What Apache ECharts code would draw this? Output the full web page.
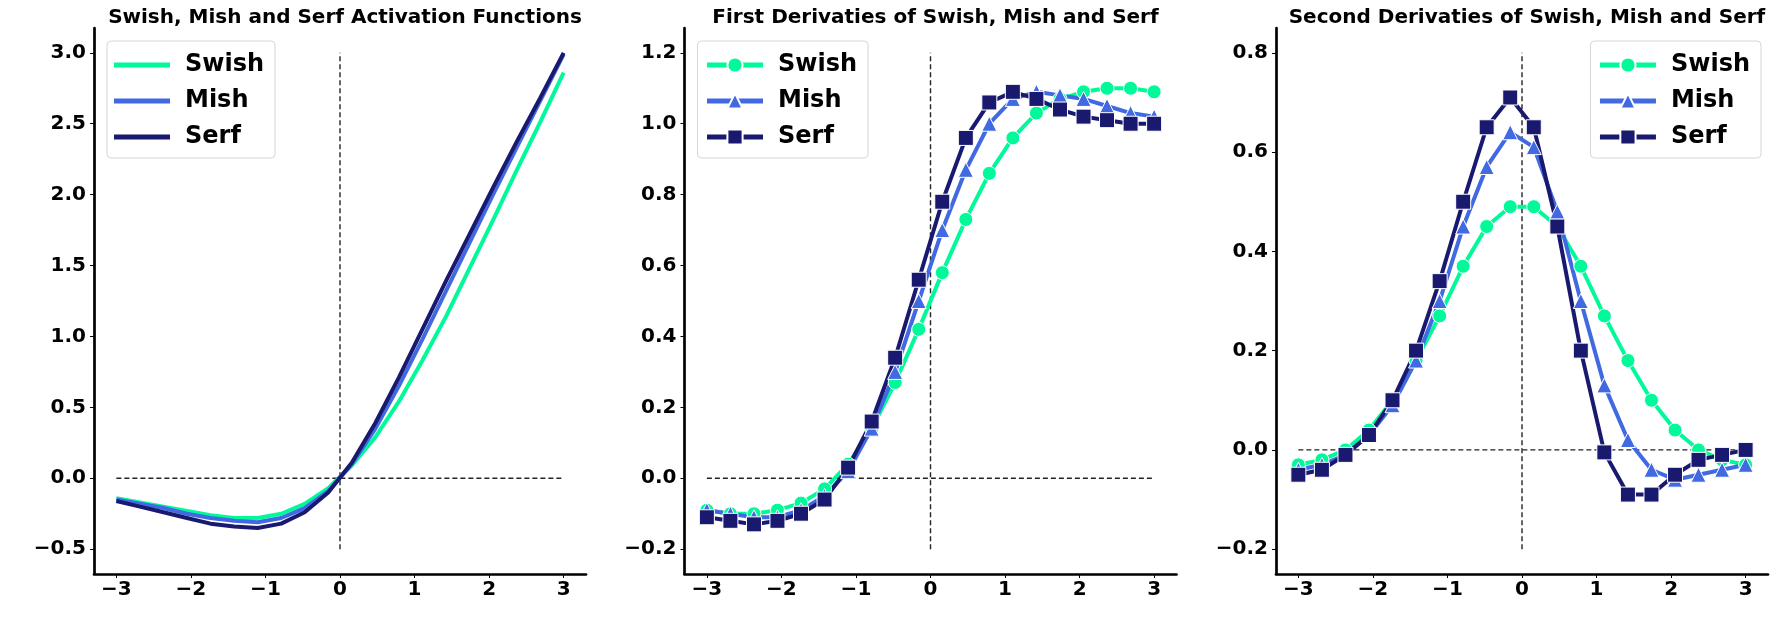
<!DOCTYPE html>
<html>
<head>
<meta charset="utf-8">
<title>Swish, Mish and Serf</title>
<script src="https://cdn.jsdelivr.net/npm/echarts@6.0.0/dist/echarts.min.js"></script>
<style>
  html, body { margin: 0; padding: 0; background: #fff; }
  #main { width: 1775px; height: 633px; }
</style>
</head>
<body>
<div id="main"></div>
<script>
// 20 sample points on [-3, 3]
var xs = [-3, -2.684, -2.368, -2.053, -1.737, -1.421, -1.105, -0.789, -0.474, -0.158,
          0.158, 0.474, 0.789, 1.105, 1.421, 1.737, 2.053, 2.368, 2.684, 3];

// activation functions
var swishAct = [-0.14, -0.17, -0.20, -0.23, -0.26, -0.28, -0.28, -0.25, -0.18, -0.07,
                0.09, 0.29, 0.54, 0.83, 1.14, 1.48, 1.82, 2.17, 2.51, 2.86];
var mishAct  = [-0.15, -0.18, -0.21, -0.25, -0.28, -0.30, -0.31, -0.28, -0.21, -0.09,
                0.10, 0.35, 0.65, 0.98, 1.32, 1.66, 2.00, 2.33, 2.66, 2.99];
var serfAct  = [-0.16, -0.20, -0.24, -0.28, -0.32, -0.34, -0.35, -0.32, -0.24, -0.10,
                0.11, 0.39, 0.71, 1.05, 1.39, 1.72, 2.05, 2.37, 2.68, 3.00];

// first derivatives
var swishD1 = [-0.09, -0.10, -0.10, -0.09, -0.07, -0.03, 0.04, 0.14, 0.27, 0.42,
               0.58, 0.73, 0.86, 0.96, 1.03, 1.07, 1.09, 1.10, 1.10, 1.09];
var mishD1  = [-0.09, -0.10, -0.11, -0.11, -0.09, -0.05, 0.02, 0.14, 0.30, 0.50,
               0.70, 0.87, 1.00, 1.07, 1.09, 1.08, 1.07, 1.05, 1.03, 1.02];
var serfD1  = [-0.11, -0.12, -0.13, -0.12, -0.10, -0.06, 0.03, 0.16, 0.34, 0.56,
               0.78, 0.96, 1.06, 1.09, 1.07, 1.04, 1.02, 1.01, 1.00, 1.00];

// second derivatives
var swishD2 = [-0.03, -0.02, 0.00, 0.04, 0.10, 0.18, 0.27, 0.37, 0.45, 0.49,
               0.49, 0.45, 0.37, 0.27, 0.18, 0.10, 0.04, 0.00, -0.02, -0.03];
var mishD2  = [-0.04, -0.03, -0.01, 0.03, 0.09, 0.18, 0.30, 0.45, 0.57, 0.64,
               0.61, 0.48, 0.30, 0.13, 0.02, -0.04, -0.06, -0.05, -0.04, -0.03];
var serfD2  = [-0.05, -0.04, -0.01, 0.03, 0.10, 0.20, 0.34, 0.50, 0.65, 0.71,
               0.65, 0.45, 0.20, -0.005, -0.09, -0.09, -0.05, -0.02, -0.01, 0.00];

var xTicks  = [-3, -2, -1, 0, 1, 2, 3];
var yTicks1 = [-0.5, 0, 0.5, 1, 1.5, 2, 2.5, 3];
var yTicks2 = [-0.2, 0, 0.2, 0.4, 0.6, 0.8, 1.0, 1.2];
var yTicks3 = [-0.2, 0, 0.2, 0.4, 0.6, 0.8];

var titles = [
  'Swish, Mish and Serf Activation Functions',
  'First Derivaties of Swish, Mish and Serf',
  'Second Derivaties of Swish, Mish and Serf'
];
var names = ['Swish', 'Mish', 'Serf'];

var panels = [
  { values: [swishAct, mishAct, serfAct], yTicks: yTicks1, markers: false },
  { values: [swishD1, mishD1, serfD1], yTicks: yTicks2, markers: true },
  { values: [swishD2, mishD2, serfD2], yTicks: yTicks3, markers: true }
];

var colors = ['#00FA9A', '#4169E1', '#191970'];
var symbols = ['circle', 'triangle', 'rect'];
var symbolSizes = [14, 15, 15];
var font = 'DejaVu Sans';
var gridLeft = [94, 684.5, 1276];
var gridW = 492, gridTop = 28, gridH = 546;

function toPairs(ys) {
  return xs.map(function (x, i) { return [x, ys[i]]; });
}
function fmt(v, d) {
  var s = Math.abs(v).toFixed(d);
  return (v < -1e-9 ? '\u2212' : '') + s;
}

var option = {
  animation: false,
  backgroundColor: '#fff',
  textStyle: { fontFamily: font },
  title: [], grid: [], xAxis: [], yAxis: [], legend: [], series: []
};

panels.forEach(function (p, k) {
  var lo = p.yTicks[0], hi = p.yTicks[p.yTicks.length - 1];
  var pad = (hi - lo) * 0.05;
  var suffix = new Array(k + 1).join(' ');
  var tickFont = { color: '#000', fontSize: 20, fontWeight: 'bold', fontFamily: font };

  option.title.push({
    text: titles[k],
    left: gridLeft[k] + gridW / 2,
    top: 3,
    textAlign: 'center',
    textStyle: { fontFamily: font, fontSize: 20, fontWeight: 'bold', color: '#000' }
  });
  option.grid.push({
    left: gridLeft[k], top: gridTop, width: gridW, height: gridH,
    containLabel: false, outerBoundsMode: 'none'
  });
  option.xAxis.push({
    gridIndex: k, type: 'value', min: -3.3, max: 3.3,
    axisLine: { show: true, onZero: false, lineStyle: { color: '#000', width: 2.7 } },
    axisTick: { show: true, length: 4, customValues: xTicks, lineStyle: { color: '#000', width: 1 } },
    axisLabel: Object.assign({
      customValues: xTicks, margin: 6,
      formatter: function (v) { return fmt(v, 0); }
    }, tickFont),
    splitLine: { show: false }
  });
  option.yAxis.push({
    gridIndex: k, type: 'value', min: lo - pad, max: hi + pad,
    axisLine: { show: true, onZero: false, lineStyle: { color: '#000', width: 2.7 } },
    axisTick: { show: true, length: 4, customValues: p.yTicks, lineStyle: { color: '#000', width: 1 } },
    axisLabel: Object.assign({
      customValues: p.yTicks, margin: 8,
      formatter: function (v) { return fmt(v, 1); }
    }, tickFont),
    splitLine: { show: false }
  });

  // dashed zero lines
  var dash = { color: '#222', width: 1.4, type: [5, 3] };
  option.series.push({
    type: 'line', xAxisIndex: k, yAxisIndex: k, silent: true, symbol: 'none',
    lineStyle: dash, data: [[xTicks[0], 0], [xTicks[xTicks.length - 1], 0]]
  });
  option.series.push({
    type: 'line', xAxisIndex: k, yAxisIndex: k, silent: true, symbol: 'none',
    lineStyle: dash, data: [[0, lo], [0, hi]]
  });

  var legendData = [];
  p.values.forEach(function (ys, j) {
    var name = names[j] + suffix;
    legendData.push(p.markers ? name : { name: name, icon: 'rect' });
    option.series.push({
      name: name, type: 'line', xAxisIndex: k, yAxisIndex: k,
      data: toPairs(ys),
      symbol: p.markers ? symbols[j] : 'none',
      symbolSize: symbolSizes[j],
      showSymbol: p.markers,
      color: colors[j],
      lineStyle: { color: colors[j], width: 4 },
      itemStyle: { color: colors[j], borderColor: '#fff', borderWidth: 1 },
      emphasis: { disabled: true }
    });
  });

  var leg = {
    data: legendData, orient: 'vertical', top: 41,
    itemWidth: 56, itemHeight: p.markers ? 19 : 5, itemGap: 8,
    padding: [10, 11, 7, 7],
    backgroundColor: 'rgba(255,255,255,0.85)',
    borderColor: '#d6d6d6', borderWidth: 1, borderRadius: 4,
    selectedMode: false,
    lineStyle: { width: 5 },
    itemStyle: p.markers ? {} : { borderWidth: 0 },
    formatter: function (n) { return n.trim(); },
    textStyle: { fontFamily: font, fontSize: 24, fontWeight: 'bold', color: '#000', lineHeight: 28, padding: [0, 0, 0, 10] }
  };
  if (k === 2) leg.right = 14; else leg.left = gridLeft[k] + 13;
  option.legend.push(leg);
});

var myChart = echarts.init(document.getElementById('main'));
myChart.setOption(option);
</script>
</body>
</html>
